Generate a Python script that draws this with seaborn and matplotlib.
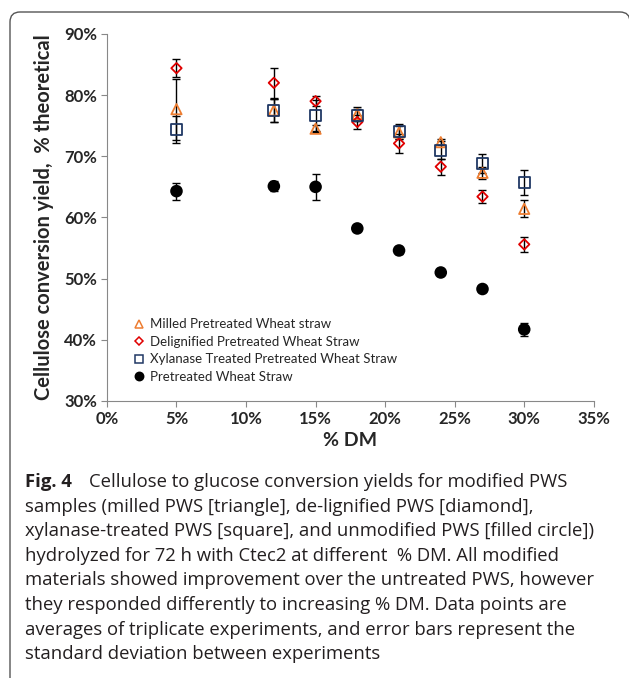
import numpy as np
import pandas as pd
import matplotlib
matplotlib.use("Agg")
import matplotlib.pyplot as plt
import seaborn as sns
from matplotlib.lines import Line2D
from matplotlib.patches import FancyBboxPatch
from matplotlib.ticker import PercentFormatter

# % dry matter
dm = [5, 12, 15, 18, 21, 24, 27, 30]

milled = [77.7, 77.5, 74.5, 76.9, 73.9, 72.3, 67.3, 61.4]
milled_err = [5.0, 1.9, 0.6, 1.2, 1.0, 0.5, 1.0, 1.4]
delig = [84.4, 82.0, 79.0, 75.6, 72.1, 68.3, 63.4, 55.6]
delig_err = [1.5, 2.5, 0.8, 1.2, 1.5, 1.3, 1.1, 1.2]
xylan = [74.4, 77.5, 76.7, 76.7, 74.0, 71.0, 68.8, 65.7]
xylan_err = [2.2, 1.9, 2.5, 1.0, 1.2, 1.5, 1.6, 2.1]
pws = [64.3, 65.1, 65.0, 58.2, 54.6, 51.0, 48.3, 41.7]
pws_err = [1.4, 0.8, 2.1, 0.3, 0.6, 0.3, 0.5, 1.1]

labels = ["Milled Pretreated Wheat straw",
          "Delignified Pretreated Wheat Straw",
          "Xylanase Treated Pretreated Wheat Straw",
          "Pretreated Wheat Straw"]
colors = ["#ED7D31", "#E00000", "#203864", "#000000"]
markers = ["^", "D", "s", "o"]
sizes = [55, 28, 62, 60]

values = [milled, delig, xylan, pws]
errors = [milled_err, delig_err, xylan_err, pws_err]

df = pd.concat([pd.DataFrame({"dm": dm, "yield": v, "err": e, "series": lab})
                for v, e, lab in zip(values, errors, labels)], ignore_index=True)

sns.set_style("white")
plt.rcParams["font.family"] = ["Lato", "DejaVu Sans"]

fig = plt.figure(figsize=(6.29, 6.78), dpi=100)
ax = fig.add_axes([0.170, 0.4086, 0.774, 0.5414])

# error bars first, markers on top
for lab in labels:
    sub = df[df.series == lab]
    ax.errorbar(sub["dm"], sub["yield"], yerr=sub["err"], fmt="none",
                ecolor="black", elinewidth=1, capsize=3, capthick=1, zorder=2)

sns.scatterplot(data=df, x="dm", y="yield", hue="series", style="series",
                size="series", palette=dict(zip(labels, colors)),
                markers=dict(zip(labels, markers)),
                sizes=dict(zip(labels, sizes)), legend=False, ax=ax, zorder=3)

coll = ax.collections[-1]
fcs = coll.get_facecolors().copy()
coll.set_edgecolors(fcs.copy())
open_mask = (df["series"] != labels[3]).to_numpy()
fcs[open_mask, 3] = 0.0
coll.set_facecolors(fcs)
coll.set_linewidths(1.3)

ax.set_xlim(0, 35)
ax.set_ylim(30, 90)
ax.set_xticks(np.arange(0, 36, 5))
ax.set_yticks(np.arange(30, 91, 10))
ax.xaxis.set_major_formatter(PercentFormatter(decimals=0))
ax.yaxis.set_major_formatter(PercentFormatter(decimals=0))
for t in ax.get_xticklabels() + ax.get_yticklabels():
    t.set_fontweight("bold")
    t.set_fontsize(12)
ax.tick_params(axis="both", direction="out", length=4, width=0.8,
               color="#888888", pad=3, left=True, bottom=True)
for side in ["top", "right"]:
    ax.spines[side].set_visible(False)
for side in ["left", "bottom"]:
    ax.spines[side].set_color("#888888")
    ax.spines[side].set_linewidth(0.8)

ax.set_xlabel("% DM", fontsize=14, fontweight="bold", labelpad=4)
ax.set_ylabel("Cellulose conversion yield,  % theoretical", fontsize=14.5,
              fontweight="bold", labelpad=7)

handles = []
for lab, c, m in zip(labels, colors, markers):
    face = c if m == "o" else "none"
    ms = 6 if m != "D" else 4.5
    handles.append(Line2D([], [], linestyle="none", marker=m, markersize=ms,
                          markerfacecolor=face, markeredgecolor=c,
                          markeredgewidth=1.1, label=lab))
ax.legend(handles=handles, loc="lower left", bbox_to_anchor=(0.045, 0.035),
          frameon=False, fontsize=9.5, handlelength=0.8, handletextpad=0.4,
          labelspacing=0.42, borderaxespad=0)

# rounded frame around the figure panel (open at the bottom)
frame = FancyBboxPatch((10, -60), 620, 726, boxstyle="round,pad=0,rounding_size=10",
                       facecolor="none", edgecolor="#555555", linewidth=1.0,
                       transform=None)
fig.add_artist(frame)

# caption
cap_font = ["Open Sans", "DejaVu Sans"]
cap_lines = [
    "Cellulose to glucose conversion yields for modified PWS",
    "samples (milled PWS [triangle], de-lignified PWS [diamond],",
    "xylanase-treated PWS [square], and unmodified PWS [filled circle])",
    "hydrolyzed for 72 h with Ctec2 at different  % DM. All modified",
    "materials showed improvement over the untreated PWS, however",
    "they responded differently to increasing % DM. Data points are",
    "averages of triplicate experiments, and error bars represent the",
    "standard deviation between experiments",
]
y0 = 1 - 482 / 678
dy = 24.6 / 678
x0 = 25 / 629
fig.text(x0, y0, "Fig. 4", fontsize=13.3, fontweight="bold", family=cap_font,
         va="center", color="#231F20")
fig.text(x0 + 64 / 629, y0, cap_lines[0], fontsize=13.3, family=cap_font,
         va="center", color="#231F20")
for i, line in enumerate(cap_lines[1:], start=1):
    fig.text(x0, y0 - i * dy, line, fontsize=13.3, family=cap_font,
             va="center", color="#231F20")

fig.savefig("out.png", dpi=100)
